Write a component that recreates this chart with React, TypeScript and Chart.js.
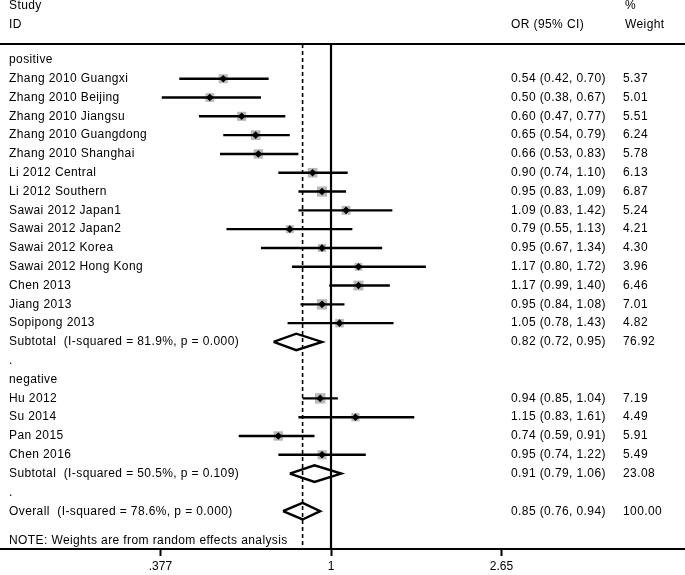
import React, { useEffect, useRef } from 'react';
import { Chart, registerables } from 'chart.js';

Chart.register(...registerables);

// ---- data ----
const groupNames = ['positive', 'negative'];

const posStudies = [
  'Zhang 2010 Guangxi', 'Zhang 2010 Beijing', 'Zhang 2010 Jiangsu', 'Zhang 2010 Guangdong',
  'Zhang 2010 Shanghai', 'Li 2012 Central', 'Li 2012 Southern', 'Sawai 2012 Japan1',
  'Sawai 2012 Japan2', 'Sawai 2012 Korea', 'Sawai 2012 Hong Kong', 'Chen 2013',
  'Jiang 2013', 'Sopipong 2013',
];
const posOR = [0.54, 0.50, 0.60, 0.65, 0.66, 0.90, 0.95, 1.09, 0.79, 0.95, 1.17, 1.17, 0.95, 1.05];
const posLo = [0.42, 0.38, 0.47, 0.54, 0.53, 0.74, 0.83, 0.83, 0.55, 0.67, 0.80, 0.99, 0.84, 0.78];
const posHi = [0.70, 0.67, 0.77, 0.79, 0.83, 1.10, 1.09, 1.42, 1.13, 1.34, 1.72, 1.40, 1.08, 1.43];
const posW = [5.37, 5.01, 5.51, 6.24, 5.78, 6.13, 6.87, 5.24, 4.21, 4.30, 3.96, 6.46, 7.01, 4.82];

const negStudies = ['Hu 2012', 'Su 2014', 'Pan 2015', 'Chen 2016'];
const negOR = [0.94, 1.15, 0.74, 0.95];
const negLo = [0.85, 0.83, 0.59, 0.74];
const negHi = [1.04, 1.61, 0.91, 1.22];
const negW = [7.19, 4.49, 5.91, 5.49];

const sumLabels = [
  'Subtotal  (I-squared = 81.9%, p = 0.000)',
  'Subtotal  (I-squared = 50.5%, p = 0.109)',
  'Overall  (I-squared = 78.6%, p = 0.000)',
];
const sumOR = [0.82, 0.91, 0.85];
const sumLo = [0.72, 0.79, 0.76];
const sumHi = [0.95, 1.06, 0.94];
const sumW = ['76.92', '23.08', '100.00'];

const xTickValues = [0.377, 1, 2.65];
const xTickLabels = ['.377', '1', '2.65'];
const noteText = 'NOTE: Weights are from random effects analysis';

type Row = { label: string; kind: string; or?: number; lo?: number; hi?: number; w?: string; wn?: number; idx: number };

function buildRows(): Row[] {
  const rows: Row[] = [];
  let i = 0;
  const groups = [
    { studies: posStudies, or: posOR, lo: posLo, hi: posHi, w: posW },
    { studies: negStudies, or: negOR, lo: negLo, hi: negHi, w: negW },
  ];
  groups.forEach((g, gi) => {
    rows.push({ label: groupNames[gi], kind: 'group', idx: i++ });
    g.studies.forEach((s, k) => {
      rows.push({ label: s, kind: 'study', or: g.or[k], lo: g.lo[k], hi: g.hi[k], w: g.w[k].toFixed(2), wn: g.w[k], idx: i++ });
    });
    rows.push({ label: sumLabels[gi], kind: 'sum', or: sumOR[gi], lo: sumLo[gi], hi: sumHi[gi], w: sumW[gi], idx: i++ });
    rows.push({ label: '.', kind: 'dot', idx: i++ });
  });
  rows.push({ label: sumLabels[2], kind: 'sum', or: sumOR[2], lo: sumLo[2], hi: sumHi[2], w: sumW[2], idx: i++ });
  return rows;
}

const FONT = '12px "Liberation Sans", Arial, sans-serif';

export default function App() {
  const ref = useRef<HTMLCanvasElement | null>(null);

  useEffect(() => {
    document.body.style.margin = '0';
    const rows = buildRows();
    const noteIdx = rows.length + 0.57;
    const studies = rows.filter(r => r.kind === 'study');
    const sums = rows.filter(r => r.kind === 'sum');

    const datasets: any[] = [];
    datasets.push({
      label: 'dots',
      data: studies.map(r => ({ x: r.or, y: r.idx })),
      pointStyle: 'rectRot',
      pointRadius: 3.8,
      backgroundColor: '#000',
      borderColor: '#000',
      borderWidth: 0,
      order: 0,
    });
    studies.forEach(r => {
      datasets.push({
        label: 'ci',
        data: [{ x: r.lo, y: r.idx }, { x: r.hi, y: r.idx }],
        showLine: true,
        borderColor: '#000',
        borderWidth: 2.4,
        pointRadius: 0,
        order: 1,
      });
    });
    sums.forEach(r => {
      const h = 0.44;
      datasets.push({
        label: 'diamond',
        data: [
          { x: r.lo, y: r.idx }, { x: r.or, y: r.idx - h }, { x: r.hi, y: r.idx },
          { x: r.or, y: r.idx + h }, { x: r.lo, y: r.idx },
        ],
        showLine: true,
        borderColor: '#000',
        borderWidth: 2.4,
        borderJoinStyle: 'miter',
        pointRadius: 0,
        order: 1,
      });
    });
    datasets.push({
      label: 'boxes',
      data: studies.map(r => ({ x: r.or, y: r.idx })),
      pointStyle: 'rect',
      pointRadius: studies.map(r => 2.75 * Math.sqrt(r.wn as number)),
      backgroundColor: '#b9b9b9',
      borderWidth: 0,
      order: 2,
    });

    const textPlugin = {
      id: 'forestText',
      beforeDatasetsDraw(chart: any) {
        const { ctx, chartArea, scales } = chart;
        const x = scales.x;
        ctx.save();
        ctx.strokeStyle = '#000';
        ctx.lineWidth = 2.2;
        ctx.beginPath();
        const x1 = x.getPixelForValue(1);
        ctx.moveTo(x1, chartArea.top);
        ctx.lineTo(x1, chartArea.bottom);
        ctx.stroke();
        ctx.lineWidth = 1.6;
        ctx.setLineDash([4, 3]);
        const xo = x.getPixelForValue(sumOR[2]);
        ctx.beginPath();
        ctx.moveTo(xo, chartArea.top);
        ctx.lineTo(xo, chartArea.bottom);
        ctx.stroke();
        ctx.restore();
      },
      afterDraw(chart: any) {
        const { ctx, chartArea, scales } = chart;
        const y = scales.y;
        ctx.save();
        ctx.strokeStyle = '#000';
        ctx.lineWidth = 2.2;
        ctx.beginPath();
        ctx.moveTo(0, chartArea.top);
        ctx.lineTo(chart.width, chartArea.top);
        ctx.stroke();

        ctx.fillStyle = '#000';
        ctx.font = FONT;
        (ctx as any).letterSpacing = '0.4px';
        ctx.textBaseline = 'middle';
        ctx.textAlign = 'left';
        const labX = 9, orX = 511, wX = 623;
        ctx.fillText('Study', labX, 6);
        ctx.fillText('ID', labX, 25);
        ctx.fillText('OR (95% CI)', orX, 25);
        ctx.fillText('%', wX + 2, 6);
        ctx.fillText('Weight', wX + 2, 25);
        rows.forEach(r => {
          const py = y.getPixelForValue(r.idx);
          ctx.fillText(r.label, labX, py);
          if (r.kind === 'study' || r.kind === 'sum') {
            const t = `${(r.or as number).toFixed(2)} (${(r.lo as number).toFixed(2)}, ${(r.hi as number).toFixed(2)})`;
            ctx.fillText(t, orX, py);
            ctx.fillText(r.w as string, wX, py);
          }
        });
        ctx.fillText(noteText, labX, y.getPixelForValue(noteIdx));
        ctx.restore();
      },
    };

    const chart = new Chart(ref.current as HTMLCanvasElement, {
      type: 'scatter',
      data: { datasets },
      options: {
        animation: false,
        responsive: false,
        devicePixelRatio: 1,
        layout: { autoPadding: false, padding: { top: 44, left: 0, right: 0, bottom: 0 } },
        plugins: { legend: { display: false }, tooltip: { enabled: false } },
        scales: {
          x: {
            type: 'logarithmic',
            min: 0.15067,
            max: 7.569,
            afterBuildTicks: (scale: any) => {
              scale.ticks = xTickValues.map(v => ({ value: v }));
            },
            afterFit: (scale: any) => {
              scale.height = 26;
              scale.paddingLeft = 0;
              scale.paddingRight = 0;
            },
            ticks: {
              autoSkip: false,
              maxRotation: 0,
              padding: 3,
              color: '#000',
              font: { family: '"Liberation Sans", Arial, sans-serif', size: 12 },
              callback: (_v: any, i: number) => xTickLabels[i],
            },
            grid: {
              display: true,
              drawOnChartArea: false,
              drawTicks: true,
              tickLength: 7,
              tickWidth: 2,
              tickColor: '#000',
              color: '#000',
            },
            border: { display: true, color: '#000', width: 2 },
          },
          y: {
            type: 'linear',
            reverse: true,
            min: -0.846,
            max: 26.01,
            display: false,
          },
        },
      },
      plugins: [textPlugin],
    });
    return () => chart.destroy();
  }, []);

  return (
    <div style={{ width: 685, height: 575 }}>
      <canvas ref={ref} width={685} height={575} style={{ display: 'block' }} />
    </div>
  );
}
